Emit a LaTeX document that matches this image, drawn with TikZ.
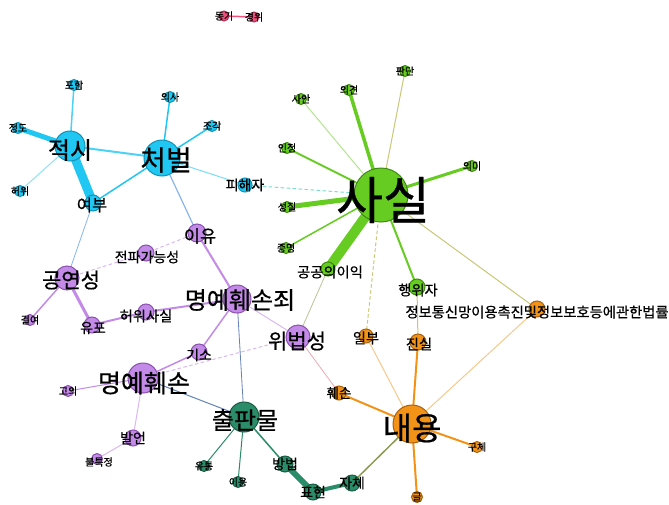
\documentclass[tikz,border=0pt]{standalone}
\usepackage{fontspec}
\setmainfont{Noto Sans CJK KR}[FakeBold=0.6]
\usetikzlibrary{backgrounds}
\definecolor{cB}{HTML}{1FC7F2}\definecolor{cBd}{HTML}{1590B5}
\definecolor{cG}{HTML}{66CC22}\definecolor{cGd}{HTML}{3E8A12}
\definecolor{cO}{HTML}{F29318}\definecolor{cOd}{HTML}{A86010}
\definecolor{cP}{HTML}{C38AE8}\definecolor{cPd}{HTML}{8A50AE}
\definecolor{cT}{HTML}{2A8C68}\definecolor{cTd}{HTML}{1A5C44}
\definecolor{cR}{HTML}{F2507C}\definecolor{cRd}{HTML}{B02850}
\definecolor{eLB}{HTML}{88B4F0}\definecolor{eSl}{HTML}{6482B4}
\definecolor{eTe}{HTML}{5CD8C0}\definecolor{eOl}{HTML}{8E9A50}
\definecolor{eKh}{HTML}{C8C878}\definecolor{ePk}{HTML}{F0A8B0}
\tikzset{
 vtx/.style={circle,inner sep=0pt,minimum size=#1,line width=1pt},
 bn/.style={vtx=#1,fill=cB,draw=cBd},
 gn/.style={vtx=#1,fill=cG,draw=cGd},
 on/.style={vtx=#1,fill=cO,draw=cOd},
 pn/.style={vtx=#1,fill=cP,draw=cPd},
 tn/.style={vtx=#1,fill=cT,draw=cTd},
 rn/.style={vtx=#1,fill=cR,draw=cRd},
 lb/.style={inner sep=0pt,text=black,font=\fontsize{#1pt}{#1pt}\selectfont},
 ed/.style={draw=#1,line cap=round},
}
\begin{document}
\begin{tikzpicture}[x=1pt,y=-1pt]
\useasboundingbox (0,0) rectangle (669,504);
% ---- vertices
\node[rn=10] (dongi) at (224,16) {};
\node[rn=10] (gyeongwi) at (254,17) {};
\node[bn=30] (jeoksi) at (70,146) {};
\node[bn=36] (cheobeol) at (162,158) {};
\node[bn=11] (poham) at (74,85) {};
\node[bn=11] (jeongdo) at (18,128) {};
\node[bn=11] (heowi) at (20,191) {};
\node[bn=11] (uisa) at (170,97) {};
\node[bn=11] (jogak) at (212,126) {};
\node[bn=14] (pihaeja) at (245,185) {};
\node[bn=16] (yeobu) at (93,203) {};
\node[gn=54] (sasil) at (381,195) {};
\node[gn=11] (saan) at (301,99) {};
\node[gn=11] (uigyeon) at (349,90) {};
\node[gn=11] (pandan) at (405,71) {};
\node[gn=11] (injeong) at (287,148) {};
\node[gn=11] (uimi) at (472,166) {};
\node[gn=11] (seongjil) at (287,207) {};
\node[gn=11] (jeungmyeong) at (286,248) {};
\node[gn=14] (gonggong) at (328,269) {};
\node[gn=16] (haengwija) at (417,287) {};
\node[on=38] (naeyong) at (412,424) {};
\node[on=14] (hwson) at (339,393) {};
\node[on=11] (gucche) at (477,447) {};
\node[on=11] (geul) at (417,497) {};
\node[on=14] (ilbu) at (366,336) {};
\node[on=16] (jinsil) at (418,342) {};
\node[on=16] (jeongbo) at (537,309) {};
\node[tn=30] (chulpan) at (244,417) {};
\node[tn=11] (yutong) at (204,466) {};
\node[tn=11] (iyong) at (238,482) {};
\node[tn=16] (bangbeop) at (285,464) {};
\node[tn=16] (pyohyeon) at (313,492) {};
\node[tn=16] (jache) at (352,483) {};
\node[pn=28] (myeongjoe) at (237,299) {};
\node[pn=18] (iyu) at (197,233) {};
\node[pn=16] (jeonpa) at (146,253) {};
\node[pn=24] (gongyeon) at (67,278) {};
\node[pn=16] (yupo) at (92,325) {};
\node[pn=16] (heowisasil) at (146,312) {};
\node[pn=11] (gyeoryeo) at (30,320) {};
\node[pn=30] (myeongye) at (143,378) {};
\node[pn=16] (giso) at (199,352) {};
\node[pn=11] (goui) at (68,391) {};
\node[pn=16] (bareon) at (133,438) {};
\node[pn=11] (bulteuk) at (97,459) {};
\node[pn=24] (wibeop) at (298,337) {};
% ---- edges
\begin{scope}[on background layer]
\fill[white] (0,0) rectangle (669,504);
\draw[ed=cR,line width=1.5] (dongi.center) -- (gyeongwi.center);
\draw[ed=cB,line width=1.5,opacity=.8] (jeoksi.center) -- (poham.center);
\draw[ed=cB,line width=5] (jeoksi.center) -- (jeongdo.center);
\draw[ed=cB,line width=1,opacity=.5] (jeoksi.center) -- (heowi.center);
\draw[ed=cB,line width=2,opacity=.8] (jeoksi.center) -- (cheobeol.center);
\draw[ed=cB,line width=9] (jeoksi.center) -- (yeobu.center);
\draw[ed=cB,line width=1.5] (cheobeol.center) -- (yeobu.center);
\draw[ed=cB,line width=1.5] (cheobeol.center) -- (uisa.center);
\draw[ed=cB,line width=1.5] (cheobeol.center) -- (jogak.center);
\draw[ed=cB,line width=1,opacity=.6] (cheobeol.center) -- (pihaeja.center);
\draw[ed=eLB,line width=1.2] (cheobeol.center) -- (iyu.center);
\draw[ed=eLB,line width=0.8] (yeobu.center) -- (gongyeon.center);
\draw[ed=eTe,line width=1,dashed,opacity=.8] (pihaeja.center) -- (sasil.center);
\draw[ed=cG,line width=1,opacity=.5] (sasil.center) -- (saan.center);
\draw[ed=cG,line width=3.5] (sasil.center) -- (uigyeon.center);
\draw[ed=eKh,line width=1] (sasil.center) -- (pandan.center);
\draw[ed=cG,line width=2] (sasil.center) -- (injeong.center);
\draw[ed=cG,line width=3] (sasil.center) -- (uimi.center);
\draw[ed=cG,line width=5] (sasil.center) -- (seongjil.center);
\draw[ed=cG,line width=1.5] (sasil.center) -- (jeungmyeong.center);
\draw[ed=cG,line width=10] (sasil.center) -- (gonggong.center);
\draw[ed=cG,line width=2] (sasil.center) -- (haengwija.center);
\draw[ed=eKh,line width=1] (sasil.center) -- (jeongbo.center);
\draw[ed=eKh,line width=1,dashed] (sasil.center) -- (ilbu.center);
\draw[ed=eOl,line width=0.8,opacity=.6] (gonggong.center) -- (wibeop.center);
\draw[ed=eKh,line width=1] (haengwija.center) -- (jinsil.center);
\draw[ed=cO,line width=2] (naeyong.center) -- (hwson.center);
\draw[ed=cO,line width=2] (naeyong.center) -- (gucche.center);
\draw[ed=cO,line width=2] (naeyong.center) -- (geul.center);
\draw[ed=cO,line width=1,opacity=.5] (naeyong.center) -- (ilbu.center);
\draw[ed=cO,line width=2] (naeyong.center) -- (jinsil.center);
\draw[ed=cO,line width=1,opacity=.5] (naeyong.center) -- (jeongbo.center);
\draw[ed=eOl,line width=1.5] (naeyong.center) -- (jache.center);
\draw[ed=ePk,line width=0.8] (hwson.center) -- (wibeop.center);
\draw[ed=cT,line width=1] (chulpan.center) -- (yutong.center);
\draw[ed=cT,line width=1] (chulpan.center) -- (iyong.center);
\draw[ed=cT,line width=1.5] (chulpan.center) -- (bangbeop.center);
\draw[ed=cT,line width=6] (bangbeop.center) -- (pyohyeon.center);
\draw[ed=cT,line width=4] (pyohyeon.center) -- (jache.center);
\draw[ed=eSl,line width=1] (chulpan.center) -- (myeongye.center);
\draw[ed=eSl,line width=0.8] (chulpan.center) -- (myeongjoe.center);
\draw[ed=cP,line width=2] (iyu.center) -- (myeongjoe.center);
\draw[ed=cP,line width=1,dashed,opacity=.6] (iyu.center) -- (jeonpa.center);
\draw[ed=cP,line width=1,dashed,opacity=.6] (jeonpa.center) -- (gongyeon.center);
\draw[ed=cP,line width=1.5] (gongyeon.center) -- (gyeoryeo.center);
\draw[ed=cP,line width=3] (gongyeon.center) -- (yupo.center);
\draw[ed=cP,line width=2] (yupo.center) -- (heowisasil.center);
\draw[ed=cP,line width=2] (heowisasil.center) -- (myeongjoe.center);
\draw[ed=cP,line width=1,opacity=.6] (myeongjoe.center) -- (wibeop.center);
\draw[ed=cP,line width=1.5] (myeongjoe.center) -- (giso.center);
\draw[ed=cP,line width=1.5] (giso.center) -- (myeongye.center);
\draw[ed=cP,line width=1,dashed,opacity=.6] (myeongye.center) -- (wibeop.center);
\draw[ed=cP,line width=1] (myeongye.center) -- (goui.center);
\draw[ed=cP,line width=1,opacity=.6] (myeongye.center) -- (bareon.center);
\draw[ed=cP,line width=1,opacity=.6] (bareon.center) -- (bulteuk.center);
\end{scope}
% ---- labels
\node[lb=10] (Ldongi) at (dongi) {동기};
\node[lb=10] (Lgyeongwi) at (gyeongwi) {경위};
\node[lb=24] (Ljeoksi) at (70,150) {적시};
\node[lb=28] (Lcheobeol) at (166,160) {처벌};
\node[lb=10] (Lpoham) at (poham) {포함};
\node[lb=10] (Ljeongdo) at (jeongdo) {정도};
\node[lb=10] (Lheowi) at (heowi) {허위};
\node[lb=10] (Luisa) at (uisa) {의사};
\node[lb=10] (Ljogak) at (jogak) {조각};
\node[lb=14] (Lpihaeja) at (pihaeja) {피해자};
\node[lb=16.5] (Lyeobu) at (92,205) {여부};
\node[lb=51] (Lsasil) at (383,200) {사실};
\node[lb=10] (Lsaan) at (saan) {사안};
\node[lb=10] (Luigyeon) at (uigyeon) {의견};
\node[lb=10] (Lpandan) at (pandan) {판단};
\node[lb=10] (Linjeong) at (injeong) {인정};
\node[lb=10] (Luimi) at (uimi) {의미};
\node[lb=10] (Lseongjil) at (seongjil) {성질};
\node[lb=10] (Ljeungmyeong) at (jeungmyeong) {증명};
\node[lb=14.3] (Lgonggong) at (330,272) {공공의이익};
\node[lb=14.3] (Lhaengwija) at (418,290) {행위자};
\node[lb=32] (Lnaeyong) at (412,428) {내용};
\node[lb=13.5] (Lhwson) at (hwson) {훼손};
\node[lb=10] (Lgucche) at (gucche) {구체};
\node[lb=10] (Lgeul) at (geul) {글};
\node[lb=14.3] (Lilbu) at (366,338) {일부};
\node[lb=14.3] (Ljinsil) at (419,344) {진실};
\node[lb=14.3] (Ljeongbo) at (537,312) {정보통신망이용촉진및정보보호등에관한법률};
\node[lb=24] (Lchulpan) at (245,420) {출판물};
\node[lb=10] (Lyutong) at (yutong) {유통};
\node[lb=10] (Liyong) at (iyong) {이용};
\node[lb=14] (Lbangbeop) at (bangbeop) {방법};
\node[lb=14] (Lpyohyeon) at (pyohyeon) {표현};
\node[lb=14] (Ljache) at (jache) {자체};
\node[lb=24] (Lmyeongjoe) at (240,300) {명예훼손죄};
\node[lb=17.5] (Liyu) at (200,236) {이유};
\node[lb=14] (Ljeonpa) at (147,257) {전파가능성};
\node[lb=21] (Lgongyeon) at (71,280) {공연성};
\node[lb=14] (Lyupo) at (93,328) {유포};
\node[lb=14.3] (Lheowisasil) at (146,316) {허위사실};
\node[lb=10] (Lgyeoryeo) at (gyeoryeo) {결여};
\node[lb=25] (Lmyeongye) at (144,383) {명예훼손};
\node[lb=14] (Lgiso) at (199,355) {기소};
\node[lb=10] (Lgoui) at (goui) {고의};
\node[lb=14] (Lbareon) at (bareon) {발언};
\node[lb=10] (Lbulteuk) at (99,462) {불특정};
\node[lb=21] (Lwibeop) at (297,341) {위법성};
\end{tikzpicture}
\end{document}
